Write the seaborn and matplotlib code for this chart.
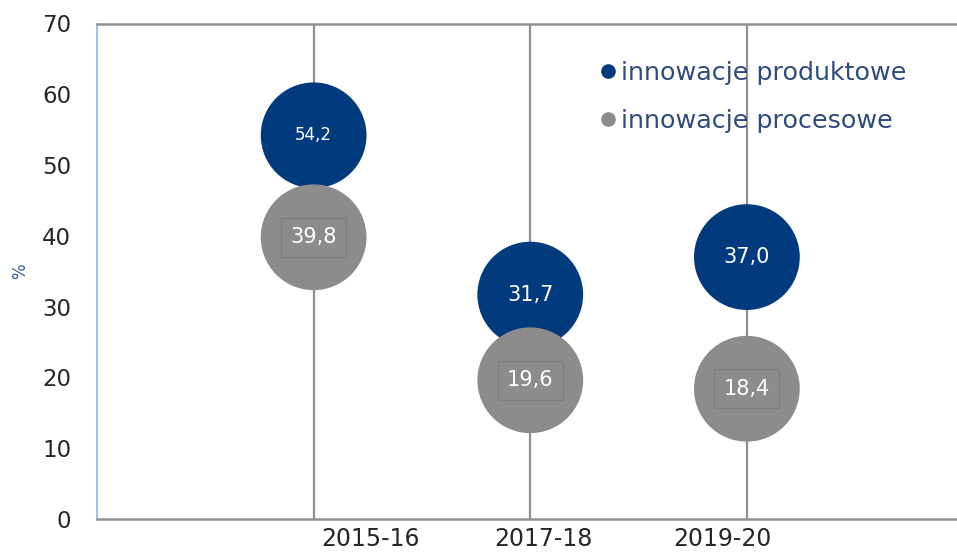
import matplotlib
matplotlib.use("Agg")
import matplotlib.pyplot as plt
import matplotlib.transforms as mtransforms
from matplotlib.lines import Line2D
import seaborn as sns
import pandas as pd

sns.set_theme(style="white")
plt.rcParams['font.family'] = ['DejaVu Sans']

okresy = ['2015-16', '2017-18', '2019-20']
serie = ['innowacje produktowe', 'innowacje procesowe']
produktowe = [54.2, 31.7, 37.0]
procesowe = [39.8, 19.6, 18.4]
etykiety_produktowe = ['54,2', '31,7', '37,0']
etykiety_procesowe = ['39,8', '19,6', '18,4']

kolory = {'innowacje produktowe': '#023A7E', 'innowacje procesowe': '#8C8C8C'}

df = pd.DataFrame({
    'x': list(range(1, len(okresy) + 1)) * 2,
    'wartosc': produktowe + procesowe,
    'seria': [serie[0]] * len(okresy) + [serie[1]] * len(okresy),
    'etykieta': etykiety_produktowe + etykiety_procesowe,
})

fig = plt.figure(figsize=(9.57, 5.55), dpi=100)
ax = fig.add_axes([97 / 957, 36 / 555, 860 / 957, 495.5 / 555])

sns.scatterplot(data=df, x='x', y='wartosc', hue='seria', palette=kolory,
                s=5800, linewidth=0, legend=False, ax=ax, zorder=3)

# etykiety danych
rozmiary = [12, 15, 15, 15, 15, 15]
for (_, w), fs in zip(df.iterrows(), rozmiary):
    if w['seria'] == serie[1]:
        ax.text(w['x'], w['wartosc'], w['etykieta'], ha='center', va='center',
                color='white', fontsize=fs, zorder=4,
                bbox=dict(boxstyle='square,pad=0.45', fc='none', ec='#7d7d7d', lw=1))
    else:
        ax.text(w['x'], w['wartosc'], w['etykieta'], ha='center', va='center',
                color='white', fontsize=fs, zorder=4)

ax.set_xlim(0, 3.97)
ax.set_ylim(0, 70)
ax.set_yticks(range(0, 71, 10))
ax.set_xticks(range(1, len(okresy) + 1))
ax.set_xticklabels(okresy)
ax.tick_params(axis='y', length=0, pad=18.5, labelsize=16.5, labelcolor='#262626')
ax.tick_params(axis='x', length=0, pad=6, labelsize=17, labelcolor='#262626')

# przesuniecie etykiet osi x jak w oryginale
przesuniecia = [57, 13, -24]
for lab, dx in zip(ax.get_xticklabels(), przesuniecia):
    lab.set_transform(lab.get_transform() +
                      mtransforms.ScaledTranslation(dx / 100, 0, fig.dpi_scale_trans))

ax.grid(axis='x', color='#8f8f8f', lw=1.6)
ax.grid(axis='y', visible=False)
ax.set_axisbelow(True)

ax.set_xlabel('')
ax.set_ylabel('%', color='#2F5597', fontsize=12)
ax.yaxis.set_label_coords(-68 / 860, 0.5)

for s in ['top', 'bottom']:
    ax.spines[s].set_color('#8f8f8f')
    ax.spines[s].set_linewidth(1.8)
ax.spines['left'].set_color('#9DC3E6')
ax.spines['left'].set_linewidth(1.5)
ax.spines['right'].set_visible(False)

uchwyty = [Line2D([0], [0], marker='o', ls='', color=kolory[n], markersize=9.5) for n in serie]
ax.legend(uchwyty, serie, loc='upper left', bbox_to_anchor=(598 / 957, 1 - 61 / 555),
          bbox_transform=fig.transFigure, frameon=False, fontsize=18.3,
          labelcolor='#2F4B7C', handletextpad=0.1, handlelength=0.8,
          labelspacing=0.95, borderaxespad=0, borderpad=0)

fig.savefig('out.png', dpi=100)
